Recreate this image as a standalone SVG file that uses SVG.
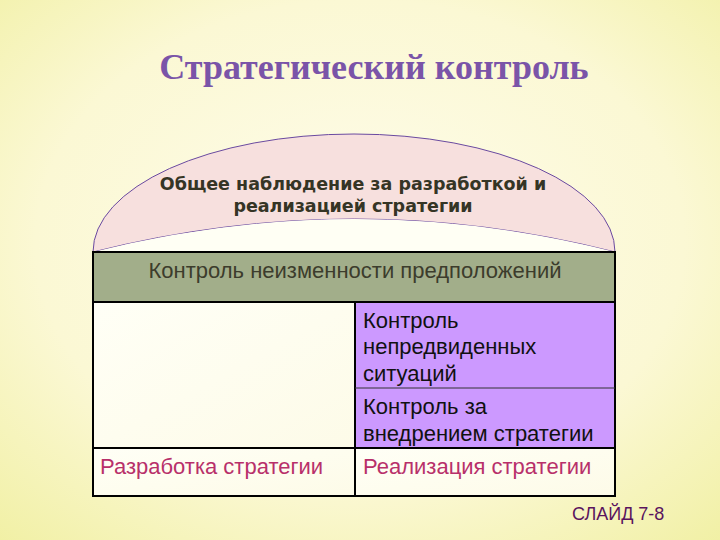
<svg xmlns="http://www.w3.org/2000/svg" width="720" height="540" viewBox="0 0 720 540">
<defs>
<radialGradient id="bg" cx="50%" cy="45%" r="75%">
<stop offset="0" stop-color="#fefcea"/>
<stop offset="0.6" stop-color="#fbf8d4"/>
<stop offset="1" stop-color="#f1f0a4"/>
</radialGradient>
<linearGradient id="cell" x1="0" y1="0" x2="1" y2="1">
<stop offset="0" stop-color="#fffff6"/>
<stop offset="1" stop-color="#fdfbe8"/>
</linearGradient>
<style>
.sans{font-family:"Liberation Sans",Arial,sans-serif;}
.dome{font-family:"DejaVu Sans",Verdana,sans-serif;font-weight:bold;font-size:17.5px;fill:#353525;text-anchor:middle;}
.body{font-size:22px;fill:#111111;}
.red{font-size:22px;fill:#b8306a;}
.ln{stroke:#000;stroke-width:2;fill:none;}
</style>
</defs>
<rect width="720" height="540" fill="url(#bg)"/>
<text x="374" y="79" text-anchor="middle" font-family="Liberation Serif,'Times New Roman',serif" font-weight="bold" font-size="36" fill="#7a54a8">Стратегический контроль</text>

<g id="dome">
<path d="M93,252 A261,118 0 0 1 615,252 Q355,186 93,252 Z" fill="#f7e0de" stroke="#6a4aa0" stroke-width="1"/>
<path d="M93,252 Q355,186 615,252 Z" fill="#fffff4"/>
<text class="dome" x="353" y="190">Общее наблюдение за разработкой и</text>
<text class="dome" x="353" y="212">реализацией стратегии</text>
</g>

<g id="header">
<rect x="93" y="252" width="522" height="50" fill="#a2ae8a"/>
<text class="sans" x="355" y="278" text-anchor="middle" font-size="22" fill="#3c3c2c">Контроль неизменности предположений</text>
</g>

<g id="left-empty">
<rect x="93" y="302" width="262" height="146" fill="url(#cell)"/>
</g>

<g id="unexpected">
<rect x="355" y="302" width="260" height="86" fill="#cc99ff"/>
<text class="sans body" x="363" y="328">Контроль</text>
<text class="sans body" x="363" y="354">непредвиденных</text>
<text class="sans body" x="363" y="381">ситуаций</text>
</g>

<g id="implementation-control">
<rect x="355" y="388" width="260" height="60" fill="#cc99ff"/>
<text class="sans body" x="363" y="414">Контроль за</text>
<text class="sans body" x="363" y="441">внедрением стратегии</text>
</g>

<g id="development">
<rect x="93" y="448" width="262" height="48" fill="url(#cell)"/>
<text class="sans red" x="100" y="474">Разработка стратегии</text>
</g>

<g id="realization">
<rect x="355" y="448" width="260" height="48" fill="url(#cell)"/>
<text class="sans red" x="363" y="474">Реализация стратегии</text>
</g>

<g id="connectors">
<rect class="ln" x="93" y="252" width="522" height="244"/>
<line class="ln" x1="93" y1="302" x2="615" y2="302" stroke-width="1.5"/>
<line class="ln" x1="355" y1="302" x2="355" y2="496" stroke-width="1.5"/>
<line x1="355" y1="388" x2="615" y2="388" stroke="#333" stroke-width="1"/>
<line class="ln" x1="93" y1="448" x2="615" y2="448" stroke-width="1.5"/>
</g>

<text class="sans" x="572" y="520" font-size="18" fill="#5a145e">СЛАЙД 7-8</text>
</svg>
